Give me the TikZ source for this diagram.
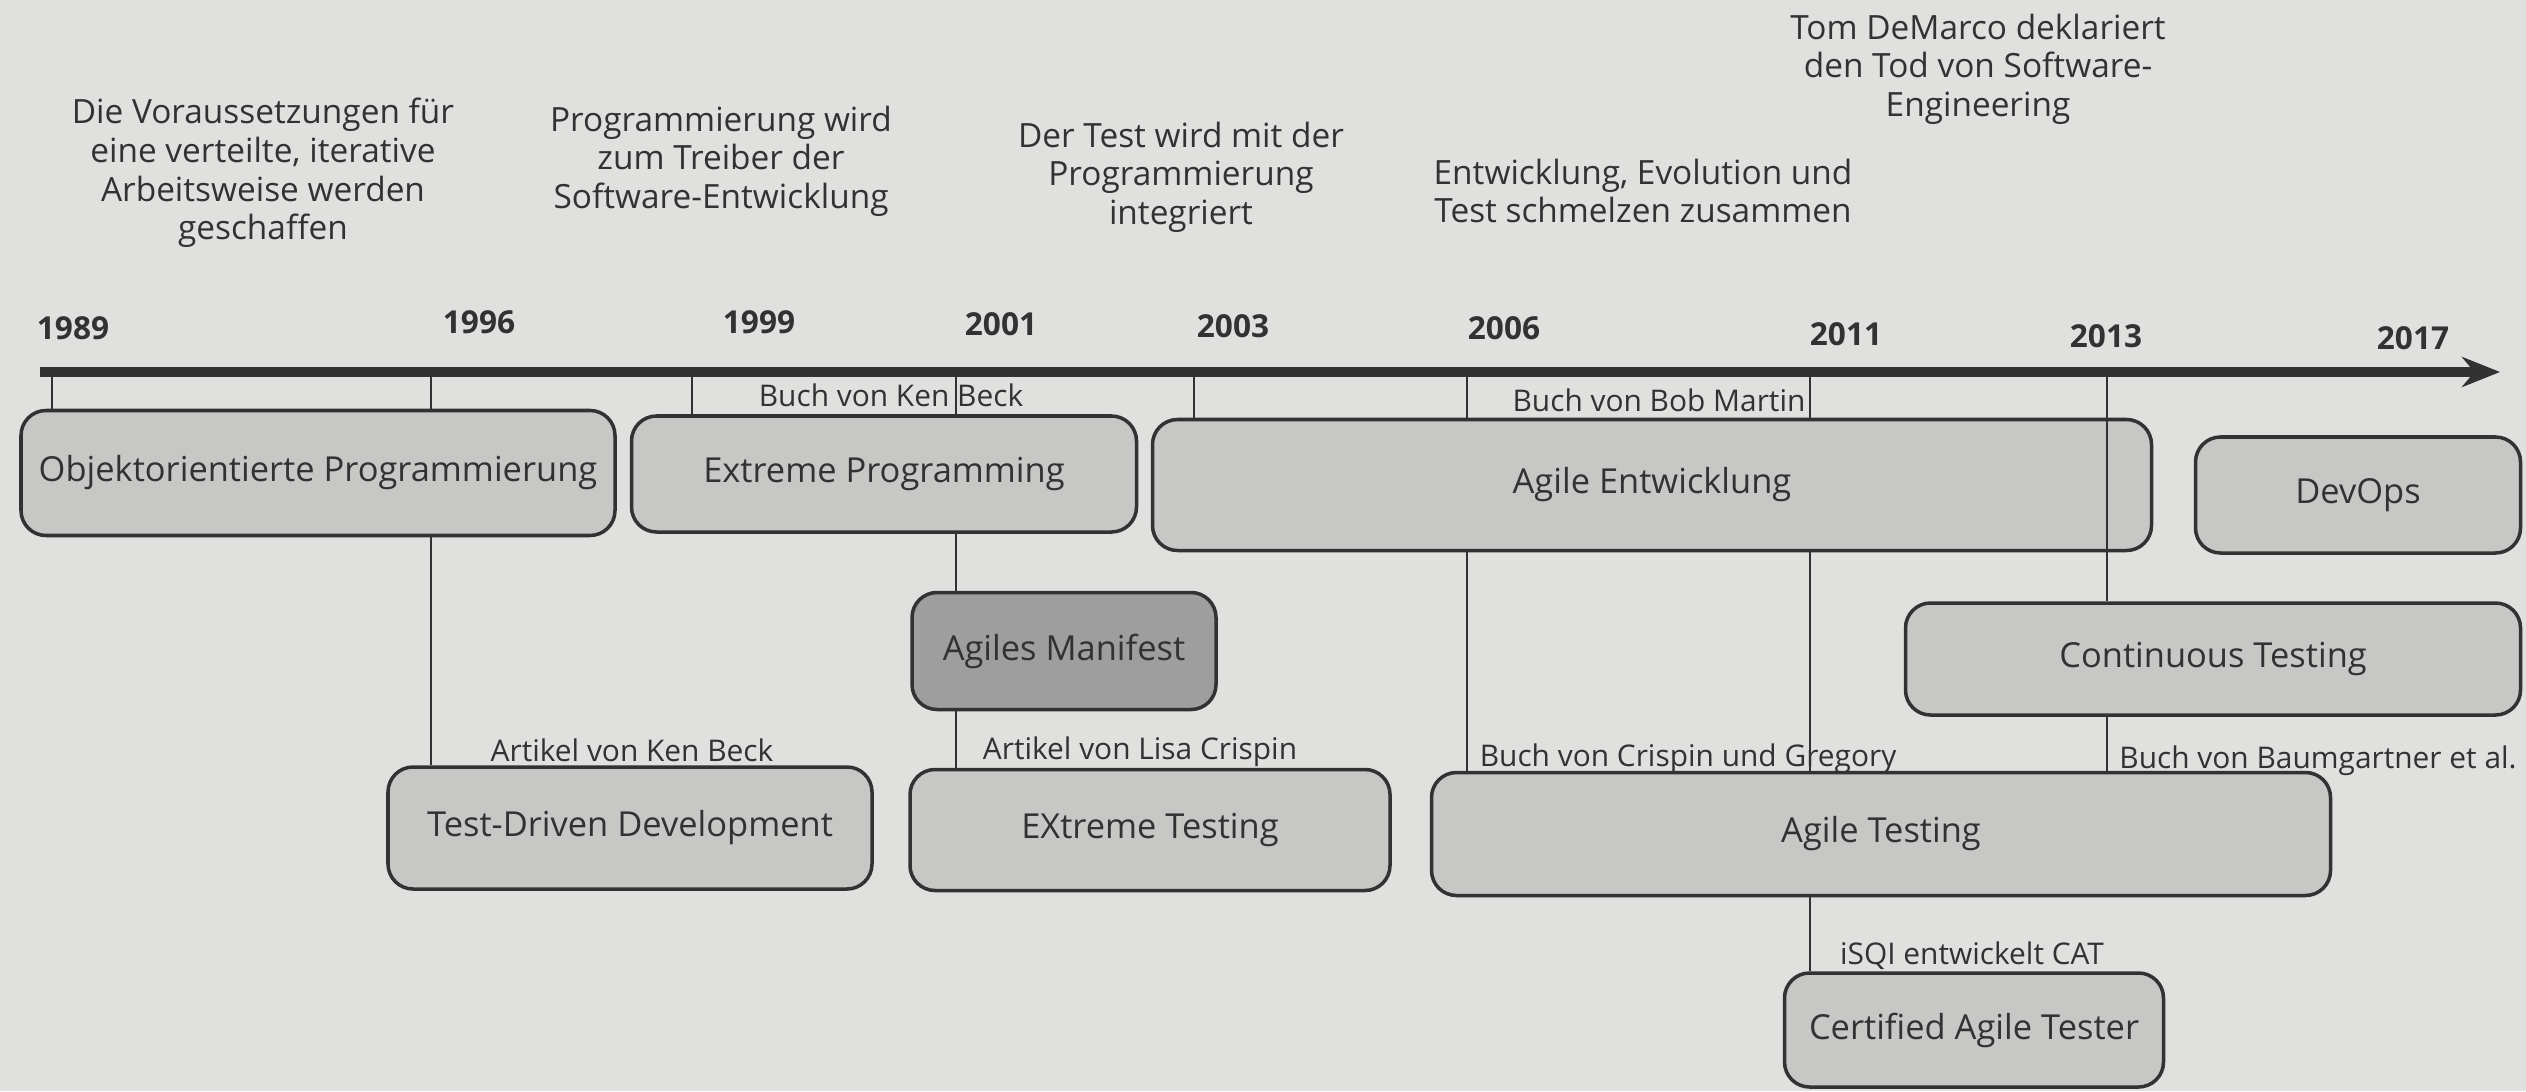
\documentclass[tikz,border=0pt]{standalone}
\usepackage{fontspec}
\setmainfont{Open Sans}
\usetikzlibrary{positioning,arrows.meta,calc}

\definecolor{paper}{RGB}{224,225,223}
\definecolor{boxgray}{RGB}{199,199,198}
\definecolor{darkbox}{RGB}{158,158,158}
\definecolor{ink}{RGB}{50,50,50}

\tikzset{
  phase/.style={draw=ink, line width=1pt, rounded corners=0.25cm, fill=boxgray, text=ink,
    font=\fontsize{9.8}{12}\selectfont, inner sep=2pt},
  year/.style={text=ink, font=\fontsize{9}{10}\selectfont\bfseries},
  source/.style={text=ink, font=\fontsize{8.5}{10}\selectfont, inner sep=1pt},
  remark/.style={text=ink, align=center, font=\fontsize{9.5}{11}\selectfont},
  conn/.style={draw=ink, line width=0.8pt},
}

\begin{document}
\begin{tikzpicture}

    \fill[paper] (0,0) rectangle (25.26,-10.91);
    \useasboundingbox (0,0) rectangle (25.26,-10.91);

    \coordinate (start) at (0.40,-3.72);
    \coordinate (end) at (25.00,-3.72);
    \draw[ink, line width=2.6pt, -{Stealth[length=0.38cm,width=0.3cm]}] (start) -- (end);

    \coordinate (t1989) at (0.52,-3.72);
    \coordinate (t1996) at (4.31,-3.72);
    \coordinate (t1999) at (6.92,-3.72);
    \coordinate (t2001) at (9.56,-3.72);
    \coordinate (t2003) at (11.94,-3.72);
    \coordinate (t2006) at (14.67,-3.72);
    \coordinate (t2011) at (18.10,-3.72);
    \coordinate (t2013) at (21.07,-3.72);

    \node (y1989) [year] at (0.73,-3.28) {1989};
    \node (y1996) [year] at (4.79,-3.22) {1996};
    \node (y1999) [year] at (7.59,-3.22) {1999};
    \node (y2001) [year] at (10.01,-3.24) {2001};
    \node (y2003) [year] at (12.33,-3.26) {2003};
    \node (y2006) [year] at (15.04,-3.28) {2006};
    \node (y2011) [year] at (18.46,-3.34) {2011};
    \node (y2013) [year] at (21.06,-3.36) {2013};
    \node (y2017) [year] at (24.13,-3.38) {2017};

    \node (rem1) [remark] at (2.63,-1.73) {Die Voraussetzungen für\\eine verteilte, iterative\\Arbeitsweise werden\\geschaffen};
    \node (rem2) [remark] at (7.21,-1.61) {Programmierung wird\\zum Treiber der\\Software-Entwicklung};
    \node (rem3) [remark] at (11.81,-1.77) {Der Test wird mit der\\Programmierung\\integriert};
    \node (rem4) [remark] at (16.43,-1.91) {Entwicklung, Evolution und\\Test schmelzen zusammen};
    \node (rem5) [remark] at (19.78,-0.69) {Tom DeMarco deklariert\\den Tod von Software-\\Engineering};

    \node (oop) [phase, minimum width=5.94cm, minimum height=1.25cm] at (3.18,-4.73) {Objektorientierte Programmierung};
    \node (xp) [phase, minimum width=5.05cm, minimum height=1.16cm] at (8.84,-4.74) {Extreme Programming};
    \node (ae) [phase, minimum width=9.99cm, minimum height=1.31cm] at (16.52,-4.85) {Agile Entwicklung};
    \node (devops) [phase, minimum width=3.25cm, minimum height=1.16cm] at (23.58,-4.95) {DevOps};
    \node (manifest) [phase, fill=darkbox, minimum width=3.04cm, minimum height=1.17cm] at (10.64,-6.51) {Agiles Manifest};
    \node (ct) [phase, minimum width=6.15cm, minimum height=1.12cm] at (22.13,-6.59) {Continuous Testing};
    \node (tdd) [phase, minimum width=4.84cm, minimum height=1.22cm] at (6.30,-8.28) {Test-Driven Development};
    \node (xt) [phase, minimum width=4.80cm, minimum height=1.21cm] at (11.50,-8.30) {EXtreme Testing};
    \node (agtest) [phase, minimum width=8.99cm, minimum height=1.23cm] at (18.81,-8.34) {Agile Testing};
    \node (cat) [phase, minimum width=3.79cm, minimum height=1.14cm] at (19.74,-10.30) {Certified Agile Tester};

    \node (kbbook) [source] at (8.91,-3.95) {Buch von Ken Beck};
    \node (bmbook) [source] at (16.59,-4.00) {Buch von Bob Martin};
    \node (kbart) [source] at (6.32,-7.50) {Artikel von Ken Beck};
    \node (lcart) [source] at (11.40,-7.52) {Artikel von Lisa Crispin};
    \node (cgbook) [source] at (16.88,-7.59) {Buch von Crispin und Gregory};
    \node (bgbook) [source] at (23.18,-7.61) {Buch von Baumgartner et al.};
    \node (isqi) [source] at (19.72,-9.56) {iSQI entwickelt CAT};

    \path[conn] (t1989) edge (t1989 |- oop.north);
    \path[conn] (t1996) edge (t1996 |- oop.north);
    \path[conn] (oop.south -| t1996) edge (tdd.north -| t1996);
    \path[conn] (t1999) edge (t1999 |- xp.north);
    \path[conn] (t2001) edge (t2001 |- xp.north);
    \path[conn] (xp.south -| t2001) edge (manifest.north -| t2001);
    \path[conn] (manifest.south -| t2001) edge (xt.north -| t2001);
    \path[conn] (t2003) edge (t2003 |- ae.north);
    \path[conn] (t2006) edge (t2006 |- ae.north);
    \path[conn] (ae.south -| t2006) edge (agtest.north -| t2006);
    \path[conn] (t2011) edge (t2011 |- ae.north);
    \path[conn] (ae.south -| t2011) edge (agtest.north -| t2011);
    \path[conn] (agtest.south -| t2011) edge (cat.north -| t2011);
    \path[conn] (t2013) edge (t2013 |- ct.north);
    \path[conn] (ct.south -| t2013) edge (agtest.north -| t2013);

\end{tikzpicture}
\end{document}
